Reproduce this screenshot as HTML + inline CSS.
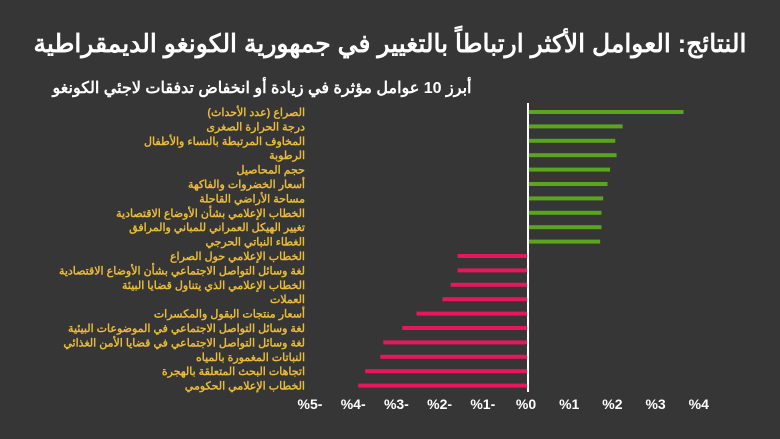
<!DOCTYPE html>
<html><head><meta charset="utf-8">
<style>
body{margin:0;background:#363636;width:780px;height:439px;overflow:hidden;font-family:"Liberation Sans","Noto Sans CJK SC",sans-serif}
#t{position:absolute;left:0;width:780px;top:29px;text-align:center;color:#fff;font-weight:bold;font-size:25px;direction:rtl;white-space:nowrap}
#s{position:absolute;left:0;width:524px;top:78px;text-align:center;color:#fff;font-weight:bold;font-size:16px;direction:rtl;white-space:nowrap}
svg{position:absolute;left:0;top:0}
</style></head><body>
<div id="t">النتائج: العوامل الأكثر ارتباطاً بالتغيير في جمهورية الكونغو الديمقراطية</div>
<div id="s">أبرز 10 عوامل مؤثرة في زيادة أو انخفاض تدفقات لاجئي الكونغو</div>
<svg id="c" width="780" height="439"></svg>
<script>
const categories=["الصراع (عدد الأحداث)","درجة الحرارة الصغرى","المخاوف المرتبطة بالنساء والأطفال","الرطوبة","حجم المحاصيل","أسعار الخضروات والفاكهة","مساحة الأراضي القاحلة","الخطاب الإعلامي بشأن الأوضاع الاقتصادية","تغيير الهيكل العمراني للمباني والمرافق","الغطاء النباتي الحرجي","الخطاب الإعلامي حول الصراع","لغة وسائل التواصل الاجتماعي بشأن الأوضاع الاقتصادية","الخطاب الإعلامي الذي يتناول قضايا البيئة","العملات","أسعار منتجات البقول والمكسرات","لغة وسائل التواصل الاجتماعي في الموضوعات البيئية","لغة وسائل التواصل الاجتماعي في قضايا الأمن الغذائي","النباتات المغمورة بالمياه","اتجاهات البحث المتعلقة بالهجرة","الخطاب الإعلامي الحكومي"];
const values=[3.6,2.19,2.02,2.05,1.9,1.84,1.74,1.7,1.7,1.67,-1.63,-1.63,-1.79,-1.98,-2.58,-2.91,-3.35,-3.42,-3.77,-3.93];
const ticks=[-5,-4,-3,-2,-1,0,1,2,3,4];
const tickLabels=["%5-","%4-","%3-","%2-","%1-","%0","%1","%2","%3","%4"];
const NS="http://www.w3.org/2000/svg",svg=document.getElementById('c');
const x=v=>528+v*43.2, y=i=>112+i*14.4;
function mk(t,a){const e=document.createElementNS(NS,t);for(const k in a)e.setAttribute(k,a[k]);svg.appendChild(e);return e;}
categories.forEach((c,i)=>{
  const v=values[i];
  const r=mk('rect',{x:Math.min(x(0),x(v)),y:y(i)-2,width:Math.abs(x(v)-x(0)),height:4,fill:v>=0?'#5aa51e':'#e8175d'});
  
  
  const t=mk('text',{x:305,y:y(i)+4,'text-anchor':'end',fill:'#e9bb3a','font-size':'11','font-weight':'bold'});
  t.textContent=c;
  
  
});
const z=mk('line',{x1:x(0),x2:x(0),y1:103,y2:392,stroke:'#fff','stroke-width':2});


ticks.forEach((v,i)=>{
  const t=mk('text',{x:x(v)-2,y:409,'text-anchor':'middle',fill:'#fff','font-size':'14','font-weight':'bold'});
  t.textContent='\u202E'+tickLabels[i].split('').reverse().join('')+'\u202C';
  t.textContent=tickLabels[i];
  t.style.unicodeBidi='bidi-override';
  t.style.direction='ltr';
  
  
});
</script>
</body></html>
